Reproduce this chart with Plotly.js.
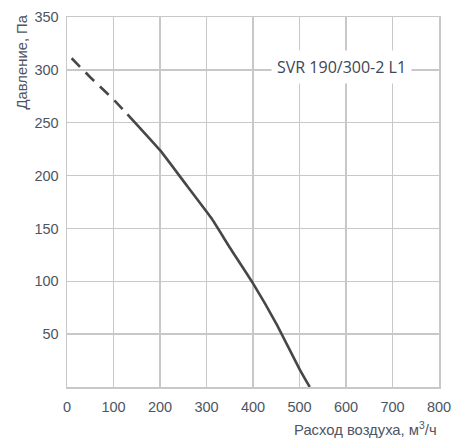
<!DOCTYPE html>
<html lang="ru">
<head>
    <meta charset="UTF-8">
    <title>SVR 190/300-2 L1</title>
    <script src="https://cdn.plot.ly/plotly-3.0.1.min.js"></script>
    <style>
        html, body { margin: 0; padding: 0; background: #fff; }
        #chart { width: 463px; height: 445px; }
    </style>
</head>
<body>
<div id="chart"></div>
<script>
    // расход воздуха, м3/ч и давление, Па
    let dashX = [10, 50, 100, 130];
    let dashY = [311, 293, 272, 258];
    let solidX = [130, 200, 250, 310, 350, 400, 450, 500, 522];
    let solidY = [258, 224, 195, 160, 132, 98, 60, 17, 0];

    let xTicks = [0, 100, 200, 300, 400, 500, 600, 700, 800];
    let yTicks = [50, 100, 150, 200, 250, 300, 350];
    let modelName = 'SVR 190/300-2 L1';

    let lineColor = '#474747';
    let gridColor = '#c8c8c8';
    let textColor = '#4d5563';

    let trace1 = {
        x: dashX,
        y: dashY,
        mode: 'lines',
        type: 'scatter',
        line: {color: lineColor, width: 2.6, dash: '12px,8px'},
        hoverinfo: 'skip'
    };

    let trace2 = {
        x: solidX,
        y: solidY,
        mode: 'lines',
        type: 'scatter',
        line: {color: lineColor, width: 2.6, shape: 'spline', smoothing: 0.4},
        hoverinfo: 'skip'
    };

    let layout = {
        width: 463,
        height: 445,
        margin: {l: 67, r: 24, t: 17, b: 58},
        paper_bgcolor: '#fff',
        plot_bgcolor: '#fff',
        showlegend: false,
        font: {family: 'Liberation Sans, Arial, sans-serif', size: 14.5, color: textColor},
        xaxis: {
            range: [0, 800],
            tickvals: xTicks,
            ticktext: xTicks.map(String),
            showgrid: true,
            gridcolor: gridColor,
            gridwidth: 1.3,
            zeroline: false,
            showline: true,
            linecolor: gridColor,
            linewidth: 1.5,
            mirror: true,
            ticks: '',
            ticklabelstandoff: 6,
            fixedrange: true
        },
        yaxis: {
            range: [0, 350],
            tickvals: yTicks,
            ticktext: yTicks.map(String),
            showgrid: true,
            gridcolor: gridColor,
            gridwidth: 1.3,
            zeroline: false,
            showline: true,
            linecolor: gridColor,
            linewidth: 1.5,
            mirror: true,
            ticks: '',
            ticklabelstandoff: 4,
            fixedrange: true
        },
        annotations: [
            {
                x: 1, y: -0.113, xref: 'paper', yref: 'paper',
                xanchor: 'right', yanchor: 'middle',
                text: 'Расход воздуха, м<sup>3</sup>/ч',
                showarrow: false,
                font: {size: 14.8, color: textColor}
            },
            {
                x: -0.12, y: 1.012, xref: 'paper', yref: 'paper',
                xanchor: 'center', yanchor: 'top',
                textangle: -90,
                text: 'Давление, Па',
                showarrow: false,
                font: {size: 14.8, color: textColor}
            },
            {
                x: 590, y: 303, xref: 'x', yref: 'y',
                xanchor: 'center', yanchor: 'middle',
                text: modelName,
                showarrow: false,
                bgcolor: '#fff',
                borderpad: 5,
                font: {family: 'Open Sans, sans-serif', size: 16, color: '#3d4656'}
            }
        ]
    };

    Plotly.newPlot('chart', [trace1, trace2], layout, {staticPlot: true, displayModeBar: false});
</script>
</body>
</html>
